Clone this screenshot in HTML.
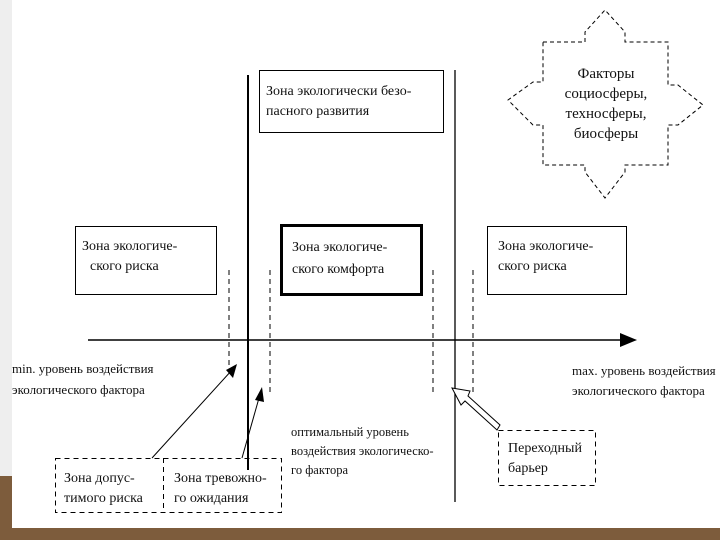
<!DOCTYPE html>
<html><head><meta charset="utf-8"><style>
body{margin:0;width:720px;height:540px;overflow:hidden;background:#8a6a48;}
</style></head><body>
<svg width="720" height="540" xmlns="http://www.w3.org/2000/svg" style="position:absolute;left:0;top:0">
<rect x="0" y="0" width="720" height="540" fill="#7d5c3c"/>
<rect x="0" y="0" width="12" height="476" fill="#eeeeee"/>
<rect x="12" y="0" width="708" height="528" fill="#ffffff"/>
<g font-family="Liberation Serif, serif" font-size="14" fill="#111">
<line x1="248" y1="75" x2="248" y2="470" stroke="#000" stroke-width="2"/>
<line x1="455" y1="70" x2="455" y2="502" stroke="#000" stroke-width="1.3"/>
<g stroke="#000" stroke-dasharray="5,4" stroke-width="1">
<line x1="229" y1="270" x2="229" y2="365"/>
<line x1="270" y1="270" x2="270" y2="392"/>
<line x1="433" y1="270" x2="433" y2="395"/>
<line x1="473" y1="270" x2="473" y2="395"/>
</g>
<line x1="88" y1="340" x2="625" y2="340" stroke="#000" stroke-width="1.5"/>
<polygon points="637,340 620,333 620,347" fill="#000"/>
<rect x="259.5" y="70.5" width="184" height="62" fill="#fff" stroke="#000"/>
<text x="266" y="95">Зона экологически безо-</text>
<text x="266" y="115">пасного развития</text>
<rect x="75.5" y="226.5" width="141" height="68" fill="#fff" stroke="#000"/>
<text x="82" y="250">Зона экологиче-</text>
<text x="90" y="270">ского риска</text>
<rect x="281.5" y="225.5" width="140" height="69" fill="#fff" stroke="#000" stroke-width="3"/>
<text x="292" y="251">Зона экологиче-</text>
<text x="292" y="273">ского комфорта</text>
<rect x="487.5" y="226.5" width="139" height="68" fill="#fff" stroke="#000"/>
<text x="498" y="250">Зона экологиче-</text>
<text x="498" y="270">ского риска</text>
<text x="12" y="373" font-size="13">min. уровень воздействия</text>
<text x="12" y="394" font-size="13">экологического фактора</text>
<text x="572" y="375" font-size="13">max. уровень воздействия</text>
<text x="572" y="395" font-size="13">экологического фактора</text>
<text x="291" y="436" font-size="12.5">оптимальный уровень</text>
<text x="291" y="455" font-size="12.5">воздействия экологическо-</text>
<text x="291" y="474" font-size="12.5">го фактора</text>
<g stroke="#000" stroke-dasharray="5,4" fill="none">
<rect x="55.5" y="458.5" width="226" height="54"/>
<line x1="163.5" y1="458" x2="163.5" y2="512"/>
<rect x="498.5" y="430.5" width="97" height="55"/>
</g>
<text x="64" y="482">Зона допус-</text>
<text x="64" y="502">тимого риска</text>
<text x="174" y="482">Зона тревожно-</text>
<text x="174" y="502">го ожидания</text>
<text x="508" y="452">Переходный</text>
<text x="508" y="472">барьер</text>
<line x1="152" y1="458" x2="232" y2="370" stroke="#000"/>
<polygon points="237,364 226,370 233,378" fill="#000"/>
<line x1="242" y1="458" x2="259" y2="398" stroke="#000"/>
<polygon points="262,387 255,400 264,402" fill="#000"/>
<polygon points="452,388 470,391 468,396 500,425 497,430 465,401 461,405" fill="#fff" stroke="#000"/>
<path d="M543,42 H585 V32 L605,10 L625,32 V42 H668 V85 H678 L703,105 L678,125 H668 V165 H625 V172 L605,198 L585,172 V165 H543 V125 H533 L508,100 L533,82 H543 Z" fill="#fff" stroke="#000" stroke-dasharray="4,3"/>
<text x="606" y="78" text-anchor="middle" font-size="15">Факторы</text>
<text x="606" y="98" text-anchor="middle" font-size="15">социосферы,</text>
<text x="606" y="118" text-anchor="middle" font-size="15">техносферы,</text>
<text x="606" y="138" text-anchor="middle" font-size="15">биосферы</text>
</g>
</svg>
</body></html>
